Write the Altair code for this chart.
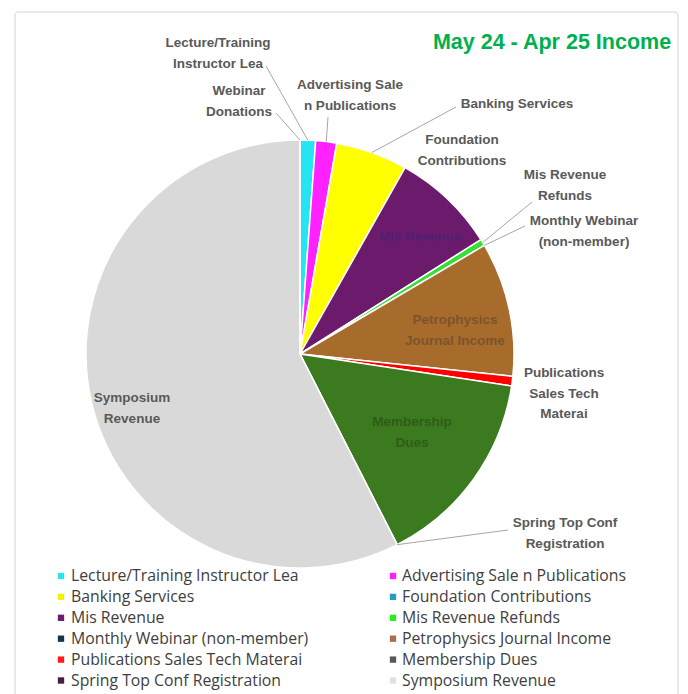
import math
import altair as alt
import pandas as pd

# ---------------- data ----------------
categories = [
    "Lecture/Training Instructor Lea",
    "Advertising Sale n Publications",
    "Banking Services",
    "Foundation Contributions",
    "Mis Revenue",
    "Mis Revenue Refunds",
    "Monthly Webinar (non-member)",
    "Petrophysics Journal Income",
    "Publications Sales Tech Materai",
    "Membership Dues",
    "Spring Top Conf Registration",
    "Symposium Revenue",
    "Webinar Donations",
]
shares = [1.17, 1.58, 5.42, 0.0, 7.86, 0.50, 0.0, 10.14, 0.72, 15.11, 0.0, 57.50, 0.0]
legend_labels = categories[:12]
title_text = "May 24 - Apr 25 Income"

outer_label_lines = {
    "Lecture/Training Instructor Lea": ["Lecture/Training", "Instructor Lea"],
    "Webinar Donations": ["Webinar", "Donations"],
    "Advertising Sale n Publications": ["Advertising Sale", "n Publications"],
    "Banking Services": ["Banking Services"],
    "Foundation Contributions": ["Foundation", "Contributions"],
    "Mis Revenue Refunds": ["Mis Revenue", "Refunds"],
    "Monthly Webinar (non-member)": ["Monthly Webinar", "(non-member)"],
    "Publications Sales Tech Materai": ["Publications", "Sales Tech", "Materai"],
    "Spring Top Conf Registration": ["Spring Top Conf", "Registration"],
    "Symposium Revenue": ["Symposium", "Revenue"],
}
inner_label_lines = {
    "Mis Revenue": ["Mis Revenue"],
    "Petrophysics Journal Income": ["Petrophysics", "Journal Income"],
    "Membership Dues": ["Membership", "Dues"],
}

# ---------------- styles / layout ----------------
slice_colors = ["#25E5F2", "#FF22FF", "#FFFF00", "#2A9BC0", "#6C1B6C", "#33E033",
                "#12364A", "#A76B2C", "#FF0000", "#3B7A1E", "#4A1A40", "#D9D9D9", "#BBBBBB"]
legend_colors = ["#29E3F0", "#FF1EFF", "#F5F000", "#2A9BC0", "#6A1F6A", "#22EE22",
                 "#12364A", "#A8704A", "#FF1A1A", "#595959", "#4A1A40", "#E0E0E0"]
inner_label_colors = {"Mis Revenue": "#2A2A7A", "Petrophysics Journal Income": "#4A3A2A",
                      "Membership Dues": "#1F3A12"}

W, H = 672, 686
CX, CY, R = 292, 346, 214
LINE_H = 20.5
# first-line centre of each label (chart pixels)
label_pos = {
    "Lecture/Training Instructor Lea": (210, 35),
    "Webinar Donations": (231, 83),
    "Advertising Sale n Publications": (342, 77),
    "Banking Services": (509, 96),
    "Foundation Contributions": (454, 132),
    "Mis Revenue Refunds": (557, 167),
    "Monthly Webinar (non-member)": (576, 213),
    "Publications Sales Tech Materai": (556, 365),
    "Spring Top Conf Registration": (557, 515),
    "Symposium Revenue": (124, 390),
    "Mis Revenue": (412, 229),
    "Petrophysics Journal Income": (447, 312),
    "Membership Dues": (404, 414),
}
leader_start = {
    "Lecture/Training Instructor Lea": (258, 58),
    "Webinar Donations": (268, 105),
    "Advertising Sale n Publications": (320, 109),
    "Banking Services": (448, 99),
    "Mis Revenue Refunds": (524, 194),
    "Monthly Webinar (non-member)": (517, 218),
    "Spring Top Conf Registration": (500, 522),
}

# ---------------- tables built from the arrays ----------------
total = sum(shares)
df_pie = pd.DataFrame({"category": categories, "share": shares, "idx": list(range(len(categories)))})

mid_angle = {}
acc = 0.0
for c, v in zip(categories, shares):
    mid_angle[c] = (acc + v / 2) / total * 2 * math.pi
    acc += v

rows = []
for c, (sx, sy) in leader_start.items():
    a = mid_angle[c]
    rows.append({"x": sx, "y": sy, "x2": CX + R * math.sin(a), "y2": CY - R * math.cos(a)})
df_lead = pd.DataFrame(rows)

def label_rows(d):
    out = []
    for c, lines in d.items():
        x0, y0 = label_pos[c]
        for i, t in enumerate(lines):
            out.append({"x": x0, "y": y0 + i * LINE_H, "text": t, "cat": c})
    return pd.DataFrame(out)

df_outer = label_rows(outer_label_lines)
df_inner = label_rows(inner_label_lines)
df_inner["col"] = df_inner["cat"].map(inner_label_colors)

leg_rows = []
for i, lab in enumerate(legend_labels):
    col, row = i % 2, i // 2
    leg_rows.append({"label": lab, "xm": 53 + 332 * col, "xt": 63 + 331 * col, "y": 568 + 20.9 * row})
df_leg = pd.DataFrame(leg_rows)

xs = alt.Scale(domain=[0, W], nice=False, zero=False)
ys = alt.Scale(domain=[0, H], nice=False, zero=False, reverse=True)

frame = alt.Chart(pd.DataFrame({"a": [0]})).mark_rect(
    fill="white", stroke="#D4D4D4", strokeWidth=1, cornerRadius=3
).encode(x=alt.value(7), x2=alt.value(670), y=alt.value(4), y2=alt.value(H + 20))

pie = alt.Chart(df_pie).mark_arc(outerRadius=R, stroke="white", strokeWidth=1.5).encode(
    theta=alt.Theta("share:Q", stack=True),
    color=alt.Color("category:N", scale=alt.Scale(domain=categories, range=slice_colors), legend=None),
    order=alt.Order("idx:Q"),
    x=alt.value(CX), y=alt.value(CY),
)

leaders = alt.Chart(df_lead).mark_rule(color="#A6A6A6", strokeWidth=1).encode(
    x=alt.X("x:Q", scale=xs, axis=None), y=alt.Y("y:Q", scale=ys, axis=None),
    x2="x2:Q", y2="y2:Q",
)

outer = alt.Chart(df_outer).mark_text(
    font="Liberation Sans", fontWeight="bold", fontSize=13.5, color="#595959",
    align="center", baseline="middle",
).encode(x=alt.X("x:Q", scale=xs, axis=None), y=alt.Y("y:Q", scale=ys, axis=None), text="text:N")

inner = alt.Chart(df_inner).mark_text(
    font="Liberation Sans", fontWeight="bold", fontSize=13.5, align="center", baseline="middle", opacity=0.45,
).encode(x=alt.X("x:Q", scale=xs, axis=None), y=alt.Y("y:Q", scale=ys, axis=None), text="text:N",
         color=alt.Color("col:N", scale=None))

leg_sq = alt.Chart(df_leg).mark_square(size=40, opacity=1).encode(
    x=alt.X("xm:Q", scale=xs, axis=None), y=alt.Y("y:Q", scale=ys, axis=None),
    fill=alt.Fill("label:N", scale=alt.Scale(domain=legend_labels, range=legend_colors), legend=None),
)
leg_txt = alt.Chart(df_leg).mark_text(
    font="Open Sans", fontSize=15.8, color="#404040", align="left", baseline="middle",
).encode(x=alt.X("xt:Q", scale=xs, axis=None), y=alt.Y("y:Q", scale=ys, axis=None), text="label:N")

title = alt.Chart(pd.DataFrame({"t": [title_text]})).mark_text(
    font="Liberation Sans", fontWeight="bold", fontSize=21.5, color="#00B050",
    align="center", baseline="middle",
).encode(x=alt.value(544), y=alt.value(35), text="t:N")

chart = alt.layer(frame, pie, leaders, outer, inner, leg_sq, leg_txt, title).resolve_scale(
    color="independent"
).properties(
    width=W, height=H, padding=0, autosize=alt.AutoSizeParams(type="none"), background="white"
).configure_view(stroke=None)

chart.save("out.html", embed_options={"renderer": "svg", "actions": False})
